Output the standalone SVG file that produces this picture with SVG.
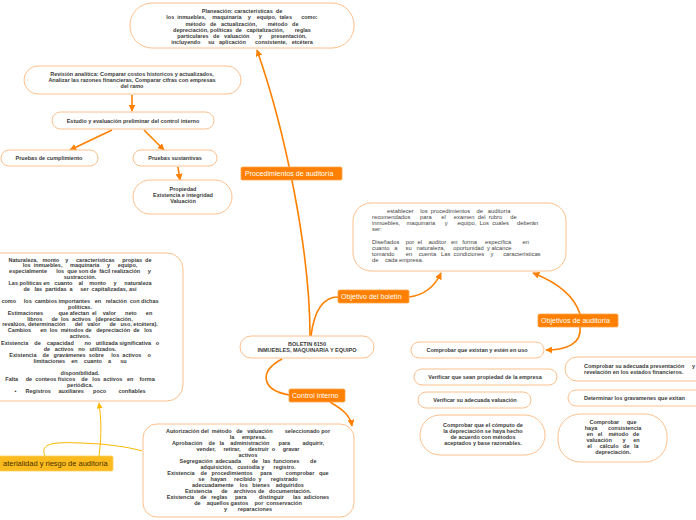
<svg xmlns="http://www.w3.org/2000/svg" width="696" height="520" viewBox="0 0 696 520">
<style>
.n{fill:#fff;stroke:#FDC08C;stroke-width:1}
.t{font-family:"Liberation Sans",Arial,sans-serif;font-size:5.5px;font-weight:bold;fill:#3a3a3a;text-anchor:middle}
.tl{font-family:"Liberation Sans",Arial,sans-serif;font-size:5.8px;fill:#444;text-anchor:start}
.lb{fill:#FF7F00;stroke:#FFA64D;stroke-width:0.8}
.ly{fill:#FBBA1E;stroke:#FFD060;stroke-width:0.8}
.lt{font-family:"Liberation Sans",Arial,sans-serif;font-size:7.1px;fill:#fff}
.lty{font-family:"Liberation Sans",Arial,sans-serif;font-size:7.5px;fill:#4a3000}
.c{fill:none;stroke:#FF8000;stroke-width:1.6}
.cy{fill:none;stroke:#F9B800;stroke-width:1}
</style>
<defs>
<marker id="a" viewBox="0 0 10 10" refX="9" refY="5" markerWidth="7" markerHeight="7" markerUnits="userSpaceOnUse" orient="auto"><path d="M0,0 L10,5 L0,10 z" fill="#FF8000"/></marker>
<marker id="ay" viewBox="0 0 10 10" refX="9" refY="5" markerWidth="6" markerHeight="6" markerUnits="userSpaceOnUse" orient="auto"><path d="M0,0 L10,5 L0,10 z" fill="#F9B800"/></marker>
</defs>
<rect width="696" height="520" fill="#fff"/>
<g id="connectors">
<path class="c" d="M132,95 L132,111" marker-end="url(#a)"/>
<path class="c" d="M112,130 L70,150" marker-end="url(#a)"/>
<path class="c" d="M144,130 L164,150" marker-end="url(#a)"/>
<path class="c" d="M178,167 L180,180" marker-end="url(#a)"/>
<path class="c" d="M310,336 C310,250 285,130 257,50" marker-end="url(#a)"/>
<path class="c" d="M311,336 C314,312 322,297 338,297"/>
<path class="c" d="M409,297 C425,295 435,286 441,273" marker-end="url(#a)"/>
<path class="c" d="M580,314 C574,295 556,282 533,273" marker-end="url(#a)"/>
<path class="c" d="M580,327 C582,344 566,350 546,350" marker-end="url(#a)"/>
<path class="c" d="M282,359 C258,372 262,390 289,395"/>
<path class="c" d="M330,402 C340,408 350,414 352,426" marker-end="url(#a)"/>
<path class="cy" d="M99,456 C102,432 101,418 99,403" marker-end="url(#ay)"/>
<path class="cy" d="M45,456 C38,440 62,442 100,444 C120,446 132,448 142,451"/>
</g>
<g id="node-planeacion">
<rect class="n" x="130" y="3" width="224" height="45" rx="22"/>
<text class="t" x="242" y="13" xml:space="preserve">Planeación: características  de</text>
<text class="t" x="242" y="19" xml:space="preserve">los  inmuebles,    maquinaria    y    equipo,  tales      como:</text>
<text class="t" x="242" y="25.5" xml:space="preserve">método   de   actualización,       método   de</text>
<text class="t" x="242" y="31.5" xml:space="preserve">depreciación, políticas  de   capitalización,       reglas</text>
<text class="t" x="242" y="37.5" xml:space="preserve">particulares   de   valuación      y      presentación,</text>
<text class="t" x="242" y="43.5" xml:space="preserve">incluyendo     su   aplicación      consistente,   etcétera</text>
</g>
<g id="node-revision">
<rect class="n" x="24" y="66" width="217" height="28" rx="14"/>
<text class="t" x="132" y="76">Revisión analítica: Comparar costos historicos y actualizados,</text>
<text class="t" x="132" y="82">Analizar las razones financieras, Comparar cifras con empresas</text>
<text class="t" x="132" y="88">del ramo</text>
</g>
<g id="node-estudio">
<rect class="n" x="52" y="112" width="162" height="17" rx="8.5"/>
<text class="t" x="133" y="122.5">Estudio y evaluación preliminar del control interno</text>
</g>
<g id="node-cumplimiento">
<rect class="n" x="1" y="150" width="97" height="16" rx="8"/>
<text class="t" x="49" y="159.8">Pruebas de cumplimiento</text>
</g>
<g id="node-sustantivas">
<rect class="n" x="133" y="150" width="84" height="16" rx="8"/>
<text class="t" x="175" y="159.8">Pruebas sustantivas</text>
</g>
<g id="node-propiedad">
<rect class="n" x="133" y="180" width="99" height="34" rx="17"/>
<text class="t" x="183" y="191">Propiedad</text>
<text class="t" x="183" y="197">Existencia e integridad</text>
<text class="t" x="183" y="203">Valuación</text>
</g>
<g id="node-establecer">
<rect class="n" x="353" y="203" width="213" height="68" rx="18"/>
<text class="tl" x="387" y="213" xml:space="preserve">establecer    los  procedimientos    de   auditoría</text>
<text class="tl" x="372" y="219" xml:space="preserve">recomendados      para      el     examen  del  rubro     de</text>
<text class="tl" x="372" y="225" xml:space="preserve">inmuebles,    maquinaria      y      equipo,  Los  cuales     deberán</text>
<text class="tl" x="372" y="231" xml:space="preserve">ser:</text>
<text class="tl" x="372" y="244" xml:space="preserve">Diseñados    por  el    auditor   en   forma     específica       en</text>
<text class="tl" x="372" y="250" xml:space="preserve">cuanto   a     su   naturaleza,     oportunidad  y alcance</text>
<text class="tl" x="372" y="256" xml:space="preserve">tomando       en    cuenta   Las  condiciones    y      características</text>
<text class="tl" x="372" y="262" xml:space="preserve">de    cada empresa.</text>
</g>
<g id="node-naturaleza">
<rect class="n" x="-40" y="253" width="223" height="148" rx="16"/>
<text class="t" x="80" y="261.5" xml:space="preserve">Naturaleza,   monto    y     características     propias  de</text>
<text class="t" x="80" y="267.4" xml:space="preserve">los  inmuebles,     maquinaria     y     equipo,</text>
<text class="t" x="80" y="273.3" xml:space="preserve">especialmente      los  que son de  fácil realización     y</text>
<text class="t" x="80" y="279.2" xml:space="preserve">sustracción.</text>
<text class="t" x="80" y="285.1" xml:space="preserve">Las políticas en   cuanto    al    monto     y     naturaleza</text>
<text class="t" x="80" y="291" xml:space="preserve">de   las  partidas  a     ser  capitalizadas, así</text>
<text class="t" x="80" y="302.8" xml:space="preserve">como     los  cambios importantes   en   relación  con dichas</text>
<text class="t" x="80" y="308.7" xml:space="preserve">políticas.</text>
<text class="t" x="80" y="314.6" xml:space="preserve">Estimaciones          que afectan  el    valor      neto      en</text>
<text class="t" x="80" y="320.5" xml:space="preserve">libros      de  los  activos   (depreciación,</text>
<text class="t" x="80" y="326.4" xml:space="preserve">revalúos, determinación      del   valor      de   uso, etcétera).</text>
<text class="t" x="80" y="332.3" xml:space="preserve">Cambios      en  los  métodos de   depreciación  de   los</text>
<text class="t" x="80" y="338.2" xml:space="preserve">activos.</text>
<text class="t" x="80" y="344.7" xml:space="preserve">Existencia    de    capacidad       no   utilizada significativa   o</text>
<text class="t" x="80" y="350.6" xml:space="preserve">de   activos   no   utilizados.</text>
<text class="t" x="80" y="356.7" xml:space="preserve">Existencia    de   gravámenes  sobre     los  activos    o</text>
<text class="t" x="80" y="362.6" xml:space="preserve">limitaciones    en    cuanto    a      su</text>
<text class="t" x="80" y="375" xml:space="preserve">disponibilidad.</text>
<text class="t" x="80" y="380.9" xml:space="preserve">Falta     de  conteos físicos    de   los  activos   en    forma</text>
<text class="t" x="80" y="386.8" xml:space="preserve">periódica.</text>
<text class="t" x="80" y="392.7" xml:space="preserve">•      Registros     auxiliares      poco        confiables</text>
</g>
<g id="node-boletin">
<rect class="n" x="240" y="336" width="134" height="22" rx="11"/>
<text class="t" x="307" y="346">BOLETIN 6150</text>
<text class="t" x="307" y="352">INMUEBLES, MAQUINARIA Y EQUIPO</text>
</g>
<g id="node-autorizacion">
<rect class="n" x="143" y="424" width="211" height="93" rx="14"/>
<text class="t" x="248" y="433" xml:space="preserve">Autorización del  método   de   valuación        seleccionado por</text>
<text class="t" x="248" y="439" xml:space="preserve">la     empresa.</text>
<text class="t" x="248" y="445" xml:space="preserve">Aprobación    de   la    administración      para        adquirir,</text>
<text class="t" x="248" y="451" xml:space="preserve">vender,     retirar,     destruir  o     gravar</text>
<text class="t" x="248" y="457" xml:space="preserve">activos</text>
<text class="t" x="248" y="463" xml:space="preserve">Segregación  adecuada       de   las  funciones       de</text>
<text class="t" x="248" y="469" xml:space="preserve">adquisición,   custodia y      registro.</text>
<text class="t" x="248" y="475" xml:space="preserve">Existencia    de   procedimientos     para         comprobar   que</text>
<text class="t" x="248" y="481" xml:space="preserve">se    hayan     recibido  y      registrado</text>
<text class="t" x="248" y="487" xml:space="preserve">adecuadamente    los   bienes    adquiridos</text>
<text class="t" x="248" y="493" xml:space="preserve">Existencia      de    archivos de   documentación.</text>
<text class="t" x="248" y="499" xml:space="preserve">Existencia    de   reglas     para        distinguir      las  adiciones</text>
<text class="t" x="248" y="505" xml:space="preserve">de    aquellos gastos    por  conservación</text>
<text class="t" x="248" y="511" xml:space="preserve">y       reparaciones</text>
</g>
<g id="node-existan">
<rect class="n" x="411" y="342" width="133" height="16" rx="8"/>
<text class="t" x="477" y="351.8">Comprobar que existan y estén en uso</text>
</g>
<g id="node-propiedad-empresa">
<rect class="n" x="414" y="369" width="143" height="16" rx="8"/>
<text class="t" x="485" y="378.8">Verificar que sean propiedad de la empresa</text>
</g>
<g id="node-valuacion">
<rect class="n" x="418" y="392" width="113" height="16" rx="8"/>
<text class="t" x="475" y="401.8">Verificar su adecuada valuación</text>
</g>
<g id="node-presentacion">
<rect class="n" x="565" y="357" width="150" height="24" rx="12"/>
<text class="t" x="584" y="367.5" style="text-anchor:start">Comprobar su adecuada presentación</text>
<text class="t" x="692" y="367.5" style="text-anchor:start">y</text>
<text class="t" x="584" y="373.5" style="text-anchor:start">revelación en los estados financieros.</text>
</g>
<g id="node-gravamenes">
<rect class="n" x="568" y="390" width="150" height="16" rx="8"/>
<text class="t" x="584" y="400" style="text-anchor:start">Determinar los gravamenes que exitan</text>
</g>
<g id="node-computo">
<rect class="n" x="420" y="415" width="125" height="40" rx="20"/>
<text class="t" x="483" y="427">Comprobar que el cómputo de</text>
<text class="t" x="483" y="433">la depreciación se haya hecho</text>
<text class="t" x="483" y="439">de acuerdo con métodos</text>
<text class="t" x="483" y="445">aceptados y base razonables.</text>
</g>
<g id="node-consistencia">
<rect class="n" x="558" y="414" width="109" height="48" rx="22"/>
<text class="t" x="613" y="424" xml:space="preserve">Comprobar     que</text>
<text class="t" x="613" y="430" xml:space="preserve">haya       consistencia</text>
<text class="t" x="613" y="436" xml:space="preserve">en   el    método   de</text>
<text class="t" x="613" y="442" xml:space="preserve">valuación       y     en</text>
<text class="t" x="613" y="448" xml:space="preserve">el     cálculo   de   la</text>
<text class="t" x="613" y="454" xml:space="preserve">depreciación.</text>
</g>
<g id="label-procedimientos">
<rect class="lb" x="241" y="167" width="101" height="13" rx="1.5"/>
<text class="lt" x="245" y="176.3">Procedimientos de auditoría</text>
</g>
<g id="label-objetivo-boletin">
<rect class="lb" x="338" y="290" width="71" height="13" rx="1.5"/>
<text class="lt" x="341" y="299.3">Objetivo del boletín</text>
</g>
<g id="label-objetivos-auditoria">
<rect class="lb" x="538" y="314" width="80" height="13" rx="1.5"/>
<text class="lt" x="541" y="323.3">Objetivos de auditoría</text>
</g>
<g id="label-control-interno">
<rect class="lb" x="289" y="389" width="56" height="13" rx="1.5"/>
<text class="lt" x="292" y="398.3">Control interno</text>
</g>
<g id="label-materialidad">
<rect class="ly" x="-5" y="456" width="118" height="15" rx="1.5"/>
<text class="lty" x="3" y="466.3">aterialidad y riesgo de auditoría</text>
</g>
</svg>
